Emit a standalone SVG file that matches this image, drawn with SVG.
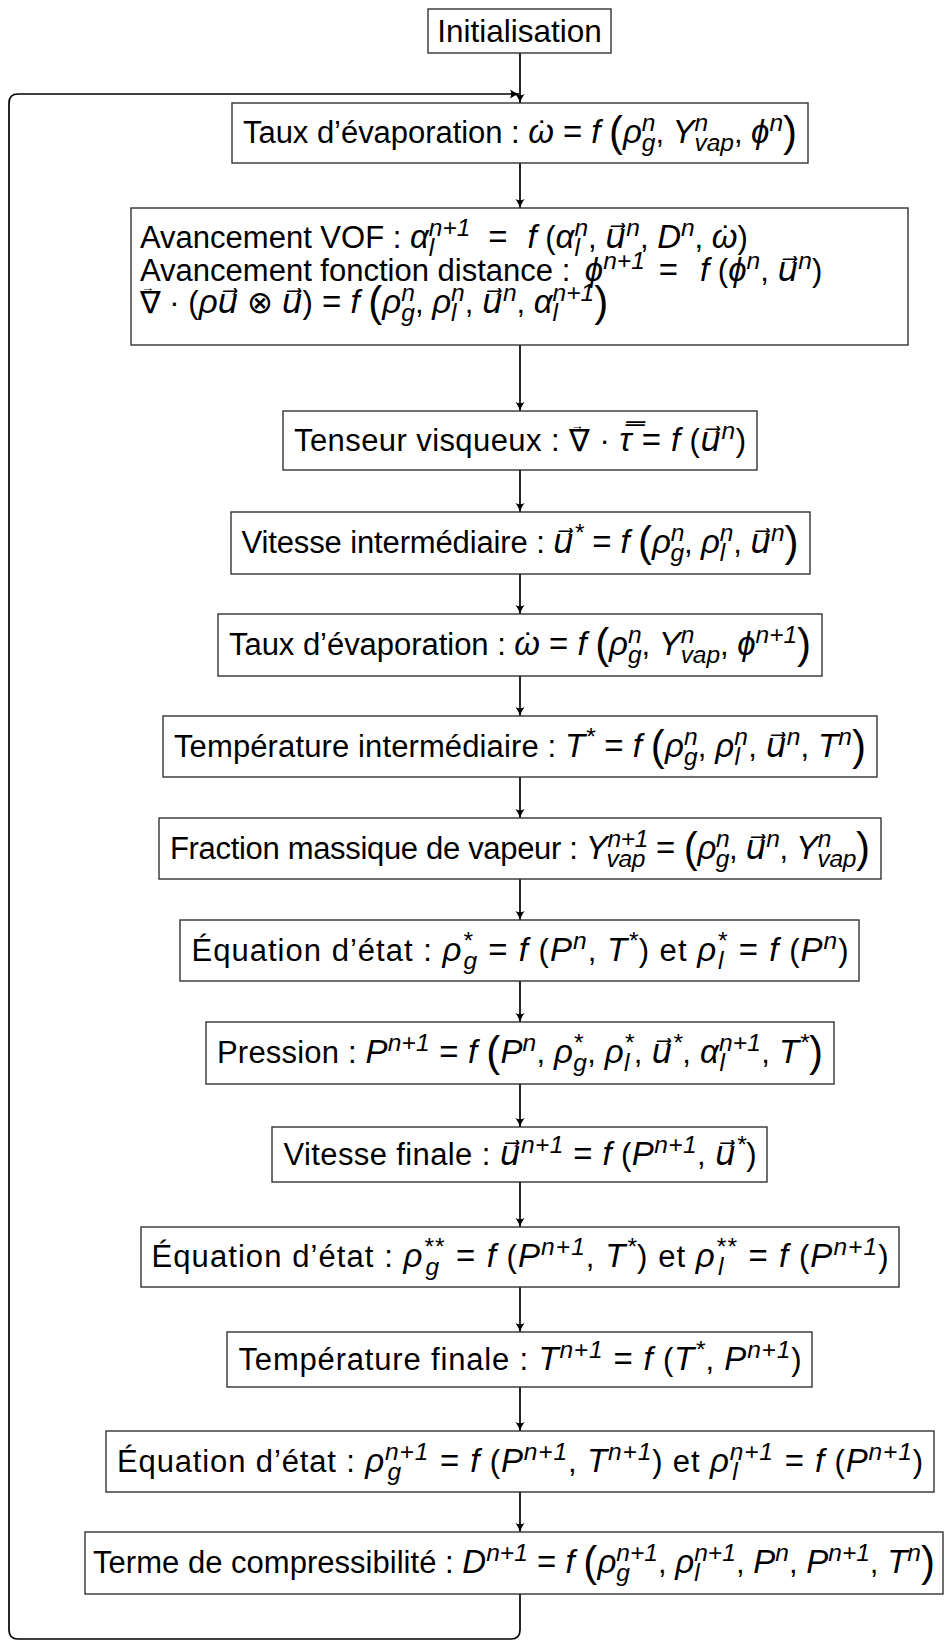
<svg xmlns="http://www.w3.org/2000/svg" width="946" height="1641" viewBox="0 0 946 1641">
<style>
text { font-family: "Liberation Sans", "DejaVu Sans", sans-serif; font-size: 31px; fill: #000; }
.init { font-size: 31.5px; }
.m { font-style: italic; font-size: 33px; }
.s { font-style: italic; font-size: 24.5px; }
.eq { font-size: 33px; }
.bp { font-size: 42px; }
.ar { font-size: 13px; }
.box { fill: #fff; stroke: #333; stroke-width: 1.4; }
.c { fill: none; stroke: #000; stroke-width: 1.7; marker-end: url(#ah); }
</style>
<defs>
<marker id="ah" viewBox="-10 -5 10 10" refX="0" refY="0" markerWidth="10" markerHeight="10" markerUnits="userSpaceOnUse" orient="auto">
<path d="M-9,-4.5 Q-4,-1 0,0 Q-4,1 -9,4.5 Q-6.5,0 -9,-4.5Z" fill="#000"/>
</marker>
</defs>
<rect width="946" height="1641" fill="#fff"/>
<g id="connectors">
<path class="c" d="M520,53 V103"/>
<path class="c" d="M520,163 V208"/>
<path class="c" d="M520,345 V411"/>
<path class="c" d="M520,470 V512"/>
<path class="c" d="M520,574 V614"/>
<path class="c" d="M520,676 V716"/>
<path class="c" d="M520,777 V818"/>
<path class="c" d="M520,879 V920"/>
<path class="c" d="M520,981 V1022"/>
<path class="c" d="M520,1084 V1127"/>
<path class="c" d="M520,1182 V1227"/>
<path class="c" d="M520,1287 V1332"/>
<path class="c" d="M520,1387 V1431"/>
<path class="c" d="M520,1492 V1532"/>
<path class="c" d="M520,1594 V1630 Q520,1639 511,1639 H18 Q9,1639 9,1630 V103 Q9,94 18,94 H519"/>
</g>
<g id="n-init"><rect class="box" x="428" y="9" width="183" height="44"/><text class="init" x="519.5" y="42" text-anchor="middle">Initialisation</text></g>
<g id="n-taux1"><rect class="box" x="232" y="103" width="576" height="60"/><text x="520" y="143" text-anchor="middle" textLength="554">Taux d’évaporation : <tspan class="m">ω</tspan><tspan dx="-16">˙</tspan><tspan class="eq" dx="5.7"> = </tspan><tspan class="m">f</tspan> <tspan class="bp" dy="3">(</tspan><tspan class="m" dy="-3">ρ</tspan><tspan class="s" dy="-12">n</tspan><tspan class="s" dx="-13.6" dy="20">g</tspan><tspan dy="-8">, </tspan><tspan class="m">Y</tspan><tspan class="s" dy="-12">n</tspan><tspan class="s" dx="-13.6" dy="20">vap</tspan><tspan dy="-8">, </tspan><tspan class="m">ϕ</tspan><tspan class="s" dy="-12">n</tspan><tspan class="bp" dy="15">)</tspan></text></g>
<g id="n-vof"><rect class="box" x="131" y="208" width="777" height="137"/>
<text x="140" y="248">Avancement VOF : <tspan class="m">α</tspan><tspan class="s" dy="-12">n+1</tspan><tspan class="s" dx="-41.6" dy="20">l</tspan><tspan class="eq" dx="54" dy="-8">=</tspan><tspan class="m" dx="20">f</tspan> (<tspan class="m">α</tspan><tspan class="s" dy="-12">n</tspan><tspan class="s" dx="-13.6" dy="20">l</tspan><tspan dx="8.2" dy="-8">, </tspan><tspan class="m">u⃗</tspan><tspan class="s" dy="-12">n</tspan><tspan dy="12">, </tspan><tspan class="m">D</tspan><tspan class="s" dy="-12">n</tspan><tspan dy="12">, </tspan><tspan class="m">ω</tspan><tspan dx="-16">˙</tspan><tspan dx="5.7">)</tspan></text>
<text x="140" y="281">Avancement fonction distance : <tspan class="m" dx="6">ϕ</tspan><tspan class="s" dy="-12">n+1</tspan><tspan class="eq" dx="14" dy="12">=</tspan><tspan class="m" dx="22">f</tspan> (<tspan class="m">ϕ</tspan><tspan class="s" dy="-12">n</tspan><tspan dy="12">, </tspan><tspan class="m">u⃗</tspan><tspan class="s" dy="-12">n</tspan><tspan dy="12">)</tspan></text>
<text x="140" y="313">∇<tspan class="ar" dx="-19.5" dy="-21">→</tspan><tspan dx="6.5" dy="21"> · (</tspan><tspan class="m">ρu⃗</tspan> ⊗ <tspan class="m">u⃗</tspan>)<tspan class="eq"> = </tspan><tspan class="m">f</tspan> <tspan class="bp" dy="3">(</tspan><tspan class="m" dy="-3">ρ</tspan><tspan class="s" dy="-12">n</tspan><tspan class="s" dx="-13.6" dy="20">g</tspan><tspan dy="-8">, </tspan><tspan class="m">ρ</tspan><tspan class="s" dy="-12">n</tspan><tspan class="s" dx="-13.6" dy="20">l</tspan><tspan dx="8.2" dy="-8">, </tspan><tspan class="m">u⃗</tspan><tspan class="s" dy="-12">n</tspan><tspan dy="12">, </tspan><tspan class="m">α</tspan><tspan class="s" dy="-12">n+1</tspan><tspan class="s" dx="-41.6" dy="20">l</tspan><tspan class="bp" dx="36.2" dy="-5">)</tspan></text>
</g>
<g id="n-tenseur"><rect class="box" x="283" y="411" width="474" height="59"/><text x="520" y="451" text-anchor="middle" textLength="452">Tenseur visqueux : ∇<tspan class="ar" dx="-19.5" dy="-21">→</tspan><tspan dx="6.5" dy="21"> · </tspan><tspan class="m">τ̿</tspan><tspan class="eq"> = </tspan><tspan class="m">f</tspan> (<tspan class="m">u⃗</tspan><tspan class="s" dy="-12">n</tspan><tspan dy="12">)</tspan></text></g>
<g id="n-vitinter"><rect class="box" x="231" y="512" width="579" height="62"/><text x="520" y="553" text-anchor="middle" textLength="557">Vitesse intermédiaire : <tspan class="m">u⃗</tspan><tspan class="s" dy="-12">*</tspan><tspan class="eq" dy="12"> = </tspan><tspan class="m">f</tspan> <tspan class="bp" dy="3">(</tspan><tspan class="m" dy="-3">ρ</tspan><tspan class="s" dy="-12">n</tspan><tspan class="s" dx="-13.6" dy="20">g</tspan><tspan dy="-8">, </tspan><tspan class="m">ρ</tspan><tspan class="s" dy="-12">n</tspan><tspan class="s" dx="-13.6" dy="20">l</tspan><tspan dx="8.2" dy="-8">, </tspan><tspan class="m">u⃗</tspan><tspan class="s" dy="-12">n</tspan><tspan class="bp" dy="15">)</tspan></text></g>
<g id="n-taux2"><rect class="box" x="218" y="614" width="604" height="62"/><text x="520" y="655" text-anchor="middle" textLength="582">Taux d’évaporation : <tspan class="m">ω</tspan><tspan dx="-16">˙</tspan><tspan class="eq" dx="5.7"> = </tspan><tspan class="m">f</tspan> <tspan class="bp" dy="3">(</tspan><tspan class="m" dy="-3">ρ</tspan><tspan class="s" dy="-12">n</tspan><tspan class="s" dx="-13.6" dy="20">g</tspan><tspan dy="-8">, </tspan><tspan class="m">Y</tspan><tspan class="s" dy="-12">n</tspan><tspan class="s" dx="-13.6" dy="20">vap</tspan><tspan dy="-8">, </tspan><tspan class="m">ϕ</tspan><tspan class="s" dy="-12">n+1</tspan><tspan class="bp" dy="15">)</tspan></text></g>
<g id="n-tempinter"><rect class="box" x="163" y="716" width="714" height="61"/><text x="520" y="756.5" text-anchor="middle" textLength="692">Température intermédiaire : <tspan class="m">T</tspan><tspan class="s" dy="-12">*</tspan><tspan class="eq" dy="12"> = </tspan><tspan class="m">f</tspan> <tspan class="bp" dy="3">(</tspan><tspan class="m" dy="-3">ρ</tspan><tspan class="s" dy="-12">n</tspan><tspan class="s" dx="-13.6" dy="20">g</tspan><tspan dy="-8">, </tspan><tspan class="m">ρ</tspan><tspan class="s" dy="-12">n</tspan><tspan class="s" dx="-13.6" dy="20">l</tspan><tspan dx="8.2" dy="-8">, </tspan><tspan class="m">u⃗</tspan><tspan class="s" dy="-12">n</tspan><tspan dy="12">, </tspan><tspan class="m">T</tspan><tspan class="s" dy="-12">n</tspan><tspan class="bp" dy="15">)</tspan></text></g>
<g id="n-fraction"><rect class="box" x="159" y="818" width="722" height="61"/><text x="520" y="858.5" text-anchor="middle" textLength="700">Fraction massique de vapeur : <tspan class="m">Y</tspan><tspan class="s" dy="-12">n+1</tspan><tspan class="s" dx="-41.6" dy="20">vap</tspan><tspan class="eq" dx="2.1" dy="-8"> = </tspan><tspan class="bp" dy="3">(</tspan><tspan class="m" dy="-3">ρ</tspan><tspan class="s" dy="-12">n</tspan><tspan class="s" dx="-13.6" dy="20">g</tspan><tspan dy="-8">, </tspan><tspan class="m">u⃗</tspan><tspan class="s" dy="-12">n</tspan><tspan dy="12">, </tspan><tspan class="m">Y</tspan><tspan class="s" dy="-12">n</tspan><tspan class="s" dx="-13.6" dy="20">vap</tspan><tspan class="bp" dy="-5">)</tspan></text></g>
<g id="n-eq1"><rect class="box" x="180" y="920" width="679" height="61"/><text x="520" y="960.5" text-anchor="middle" textLength="657">Équation d’état : <tspan class="m">ρ</tspan><tspan class="s" dy="-12">*</tspan><tspan class="s" dx="-9.5" dy="20">g</tspan><tspan class="eq" dy="-8"> = </tspan><tspan class="m">f</tspan> (<tspan class="m">P</tspan><tspan class="s" dy="-12">n</tspan><tspan dy="12">, </tspan><tspan class="m">T</tspan><tspan class="s" dy="-12">*</tspan><tspan dy="12">) et </tspan><tspan class="m">ρ</tspan><tspan class="s" dy="-12">*</tspan><tspan class="s" dx="-9.5" dy="20">l</tspan><tspan class="eq" dx="4.1" dy="-8"> = </tspan><tspan class="m">f</tspan> (<tspan class="m">P</tspan><tspan class="s" dy="-12">n</tspan><tspan dy="12">)</tspan></text></g>
<g id="n-pression"><rect class="box" x="206" y="1022" width="628" height="62"/><text x="520" y="1063" text-anchor="middle" textLength="606">Pression : <tspan class="m">P</tspan><tspan class="s" dy="-12">n+1</tspan><tspan class="eq" dy="12"> = </tspan><tspan class="m">f</tspan> <tspan class="bp" dy="3">(</tspan><tspan class="m" dy="-3">P</tspan><tspan class="s" dy="-12">n</tspan><tspan dy="12">, </tspan><tspan class="m">ρ</tspan><tspan class="s" dy="-12">*</tspan><tspan class="s" dx="-9.5" dy="20">g</tspan><tspan dy="-8">, </tspan><tspan class="m">ρ</tspan><tspan class="s" dy="-12">*</tspan><tspan class="s" dx="-9.5" dy="20">l</tspan><tspan dx="4.1" dy="-8">, </tspan><tspan class="m">u⃗</tspan><tspan class="s" dy="-12">*</tspan><tspan dy="12">, </tspan><tspan class="m">α</tspan><tspan class="s" dy="-12">n+1</tspan><tspan class="s" dx="-41.6" dy="20">l</tspan><tspan dx="36.2" dy="-8">, </tspan><tspan class="m">T</tspan><tspan class="s" dy="-12">*</tspan><tspan class="bp" dy="15">)</tspan></text></g>
<g id="n-vitfinale"><rect class="box" x="272" y="1127" width="495" height="55"/><text x="520" y="1165" text-anchor="middle" textLength="473">Vitesse finale : <tspan class="m">u⃗</tspan><tspan class="s" dy="-12">n+1</tspan><tspan class="eq" dy="12"> = </tspan><tspan class="m">f</tspan> (<tspan class="m">P</tspan><tspan class="s" dy="-12">n+1</tspan><tspan dy="12">, </tspan><tspan class="m">u⃗</tspan><tspan class="s" dy="-12">*</tspan><tspan dy="12">)</tspan></text></g>
<g id="n-eq2"><rect class="box" x="141" y="1227" width="758" height="60"/><text x="520" y="1267" text-anchor="middle" textLength="737">Équation d’état : <tspan class="m">ρ</tspan><tspan class="s" dy="-12">**</tspan><tspan class="s" dx="-19.1" dy="20">g</tspan><tspan class="eq" dx="5.5" dy="-8"> = </tspan><tspan class="m">f</tspan> (<tspan class="m">P</tspan><tspan class="s" dy="-12">n+1</tspan><tspan dy="12">, </tspan><tspan class="m">T</tspan><tspan class="s" dy="-12">*</tspan><tspan dy="12">) et </tspan><tspan class="m">ρ</tspan><tspan class="s" dy="-12">**</tspan><tspan class="s" dx="-19.1" dy="20">l</tspan><tspan class="eq" dx="13.7" dy="-8"> = </tspan><tspan class="m">f</tspan> (<tspan class="m">P</tspan><tspan class="s" dy="-12">n+1</tspan><tspan dy="12">)</tspan></text></g>
<g id="n-tempfinale"><rect class="box" x="227" y="1332" width="585" height="55"/><text x="520" y="1370" text-anchor="middle" textLength="563">Température finale : <tspan class="m">T</tspan><tspan class="s" dy="-12">n+1</tspan><tspan class="eq" dy="12"> = </tspan><tspan class="m">f</tspan> (<tspan class="m">T</tspan><tspan class="s" dy="-12">*</tspan><tspan dy="12">, </tspan><tspan class="m">P</tspan><tspan class="s" dy="-12">n+1</tspan><tspan dy="12">)</tspan></text></g>
<g id="n-eq3"><rect class="box" x="106" y="1431" width="828" height="61"/><text x="520" y="1471.5" text-anchor="middle" textLength="806">Équation d’état : <tspan class="m">ρ</tspan><tspan class="s" dy="-12">n+1</tspan><tspan class="s" dx="-41.6" dy="20">g</tspan><tspan class="eq" dx="28" dy="-8"> = </tspan><tspan class="m">f</tspan> (<tspan class="m">P</tspan><tspan class="s" dy="-12">n+1</tspan><tspan dy="12">, </tspan><tspan class="m">T</tspan><tspan class="s" dy="-12">n+1</tspan><tspan dy="12">) et </tspan><tspan class="m">ρ</tspan><tspan class="s" dy="-12">n+1</tspan><tspan class="s" dx="-41.6" dy="20">l</tspan><tspan class="eq" dx="36.2" dy="-8"> = </tspan><tspan class="m">f</tspan> (<tspan class="m">P</tspan><tspan class="s" dy="-12">n+1</tspan><tspan dy="12">)</tspan></text></g>
<g id="n-terme"><rect class="box" x="85" y="1532" width="858" height="62"/><text x="514" y="1573" text-anchor="middle" textLength="842">Terme de compressibilité : <tspan class="m">D</tspan><tspan class="s" dy="-12">n+1</tspan><tspan class="eq" dy="12"> = </tspan><tspan class="m">f</tspan> <tspan class="bp" dy="3">(</tspan><tspan class="m" dy="-3">ρ</tspan><tspan class="s" dy="-12">n+1</tspan><tspan class="s" dx="-41.6" dy="20">g</tspan><tspan dx="28" dy="-8">, </tspan><tspan class="m">ρ</tspan><tspan class="s" dy="-12">n+1</tspan><tspan class="s" dx="-41.6" dy="20">l</tspan><tspan dx="36.2" dy="-8">, </tspan><tspan class="m">P</tspan><tspan class="s" dy="-12">n</tspan><tspan dy="12">, </tspan><tspan class="m">P</tspan><tspan class="s" dy="-12">n+1</tspan><tspan dy="12">, </tspan><tspan class="m">T</tspan><tspan class="s" dy="-12">n</tspan><tspan class="bp" dy="15">)</tspan></text></g>
</svg>
